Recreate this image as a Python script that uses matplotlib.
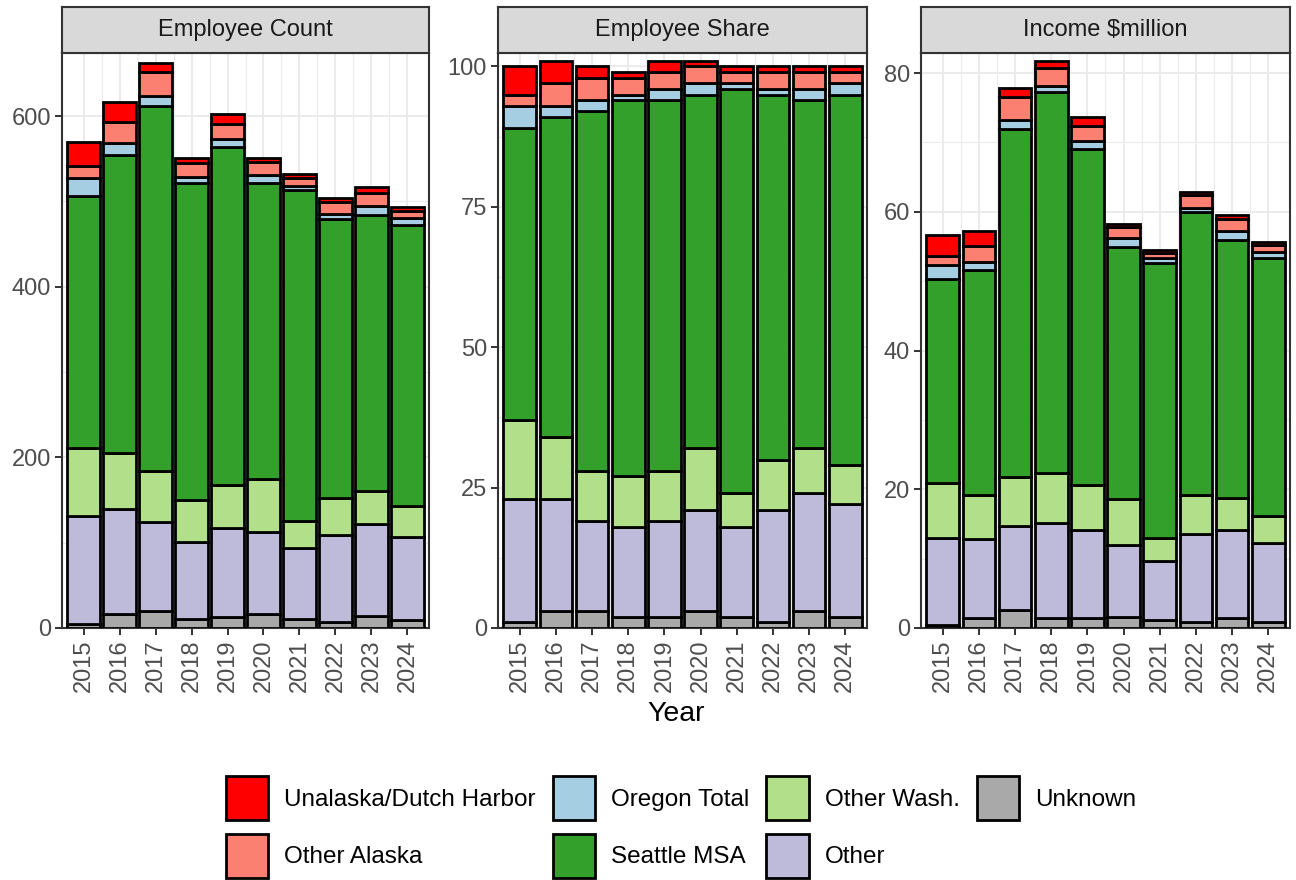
import numpy as np
import matplotlib
matplotlib.use("Agg")
import matplotlib.pyplot as plt

plt.rcParams["font.family"] = ["Liberation Sans", "DejaVu Sans"]

# Data
years = np.arange(2015, 2025)
series = ["Unknown", "Other", "Other Wash.", "Seattle MSA",
          "Oregon Total", "Other Alaska", "Unalaska/Dutch Harbor"]
colors = ["#A9A9A9", "#BEBADA", "#B2DF8A", "#33A02C",
          "#A6CEE3", "#FB8072", "#FF0000"]

count = {
    "Unknown": [5, 16, 20, 11, 13, 16, 11, 7, 14, 9],
    "Other": [126, 123, 104, 90, 104, 97, 83, 102, 108, 98],
    "Other Wash.": [80, 66, 60, 49, 51, 62, 32, 43, 39, 36],
    "Seattle MSA": [295, 350, 428, 372, 396, 347, 387, 328, 323, 329],
    "Oregon Total": [21, 13, 12, 7, 9, 9, 5, 5, 11, 9],
    "Other Alaska": [15, 25, 28, 16, 18, 15, 9, 14, 15, 8],
    "Unalaska/Dutch Harbor": [28, 23, 10, 6, 11, 5, 5, 5, 7, 5],
}
share = {
    "Unknown": [1, 3, 3, 2, 2, 3, 2, 1, 3, 2],
    "Other": [22, 20, 16, 16, 17, 18, 16, 20, 21, 20],
    "Other Wash.": [14, 11, 9, 9, 9, 11, 6, 9, 8, 7],
    "Seattle MSA": [52, 57, 64, 67, 66, 63, 72, 65, 62, 66],
    "Oregon Total": [4, 2, 2, 1, 2, 2, 1, 1, 2, 2],
    "Other Alaska": [2, 4, 4, 3, 3, 3, 2, 3, 3, 2],
    "Unalaska/Dutch Harbor": [5, 4, 2, 1, 2, 1, 1, 1, 1, 1],
}
income = {
    "Unknown": [0.45, 1.5, 2.6, 1.5, 1.5, 1.6, 1.15, 0.8, 1.5, 0.9],
    "Other": [12.55, 11.4, 12.1, 13.6, 12.7, 10.4, 8.5, 12.8, 12.6, 11.3],
    "Other Wash.": [7.9, 6.3, 7.0, 7.2, 6.4, 6.6, 3.35, 5.6, 4.6, 3.9],
    "Seattle MSA": [29.4, 32.4, 50.2, 55.0, 48.4, 36.4, 39.6, 40.8, 37.2, 37.2],
    "Oregon Total": [2.1, 1.2, 1.4, 0.9, 1.2, 1.2, 0.7, 0.6, 1.3, 0.9],
    "Other Alaska": [1.3, 2.3, 3.2, 2.6, 2.2, 1.6, 0.7, 1.8, 1.7, 1.0],
    "Unalaska/Dutch Harbor": [2.9, 2.1, 1.3, 0.9, 1.3, 0.5, 0.5, 0.5, 0.7, 0.5],
}

panels = [
    ("Employee Count", count, [0, 200, 400, 600], 674, (62, 429)),
    ("Employee Share", share, [0, 25, 50, 75, 100], 102.4, (498, 867)),
    ("Income $million", income, [0, 20, 40, 60, 80], 82.9, (921, 1290)),
]

W, H = 1296, 880
fig = plt.figure(figsize=(W / 100, H / 100), dpi=100)


def px_axes(x0, y0, x1, y1):
    return fig.add_axes([x0 / W, 1 - y1 / H, (x1 - x0) / W, (y1 - y0) / H])


txt = 17
handles = []
for title, data, yt, ytop, (x0, x1) in panels:
    ax = px_axes(x0, 53, x1, 628)
    bottom = np.zeros(len(years))
    bars = []
    for name, c in zip(series, colors):
        vals = np.array(data[name], dtype=float)
        b = ax.bar(years, vals, bottom=bottom, width=0.9, color=c,
                   edgecolor="black", linewidth=2, label=name, zorder=3)
        bars.append(b)
        bottom += vals
    if not handles:
        handles = bars

    ax.set_xlim(2015 - 0.6, 2024 + 0.6)
    ax.set_ylim(0, ytop)
    ax.set_xticks(years)
    ax.set_xticks(years[:-1] + 0.5, minor=True)
    ax.set_xticklabels([str(y) for y in years], rotation=90)
    ax.set_yticks(yt)
    ax.set_yticks([(a + b) / 2 for a, b in zip(yt[:-1], yt[1:])], minor=True)
    ax.grid(which="major", color="#EBEBEB", linewidth=1.4, zorder=0)
    ax.grid(which="minor", color="#EBEBEB", linewidth=0.8, zorder=0)
    ax.set_axisbelow(True)
    ax.tick_params(which="major", length=5, width=1.4, color="#333333",
                   labelsize=txt, labelcolor="#4D4D4D", pad=3)
    ax.tick_params(which="minor", length=0)
    for s in ax.spines.values():
        s.set_color("#333333")
        s.set_linewidth(1.5)

    st = px_axes(x0, 7, x1, 53)
    st.set_facecolor("#D9D9D9")
    st.set_xticks([])
    st.set_yticks([])
    for s in st.spines.values():
        s.set_color("#333333")
        s.set_linewidth(1.5)
    st.text(0.5, 0.5, title, ha="center", va="center", fontsize=txt,
            color="#1A1A1A", transform=st.transAxes)

fig.text(676 / W, 1 - 714 / H, "Year", ha="center", va="center", fontsize=20.5)

order = [6, 5, 4, 3, 2, 1, 0]
fig.legend([handles[i] for i in order], [series[i] for i in order],
           loc="center", bbox_to_anchor=(681 / W, 1 - 827 / H), ncol=4,
           frameon=False, fontsize=17.5, handlelength=1.75, handleheight=2.4,
           handletextpad=0.65, columnspacing=0.7, labelspacing=0.55,
           borderpad=0)

fig.savefig("out.png", dpi=100)
